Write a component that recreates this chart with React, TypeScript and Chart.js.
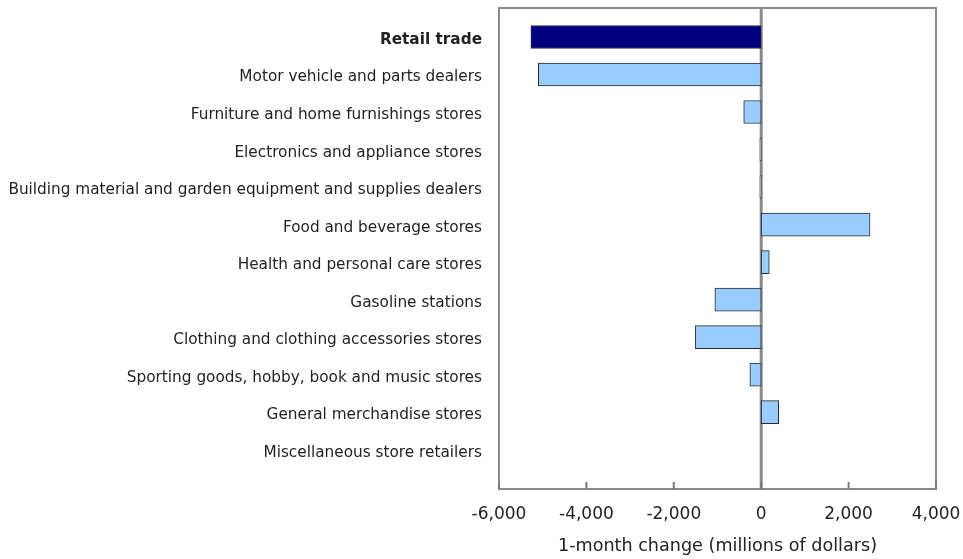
import React, { useEffect, useRef } from "react";
import { Chart, registerables } from "chart.js";

Chart.register(...registerables);

const categories: string[] = [
  "Retail trade",
  "Motor vehicle and parts dealers",
  "Furniture and home furnishings stores",
  "Electronics and appliance stores",
  "Building material and garden equipment and supplies dealers",
  "Food and beverage stores",
  "Health and personal care stores",
  "Gasoline stations",
  "Clothing and clothing accessories stores",
  "Sporting goods, hobby, book and music stores",
  "General merchandise stores",
  "Miscellaneous store retailers",
];

const changes: number[] = [
  -5270, -5100, -400, -30, -30, 2490, 185, -1060, -1510, -260, 400, 0,
];

const xTicks: number[] = [-6000, -4000, -2000, 0, 2000, 4000];

const FONT = "'DejaVu Sans', Verdana, sans-serif";
const GRAY = "#8a8a8a";

const framePlugin = {
  id: "frame",
  beforeDatasetsDraw(chart: any) {
    const { ctx, chartArea, scales } = chart;
    const x0 = scales.x.getPixelForValue(0);
    ctx.save();
    ctx.strokeStyle = GRAY;
    ctx.lineWidth = 3;
    ctx.beginPath();
    ctx.moveTo(x0, chartArea.top);
    ctx.lineTo(x0, chartArea.bottom);
    ctx.stroke();
    ctx.restore();
  },
  afterDatasetsDraw(chart: any) {
    const { ctx, chartArea, scales } = chart;
    ctx.save();
    ctx.strokeStyle = GRAY;
    ctx.lineWidth = 2;
    ctx.strokeRect(
      chartArea.left,
      chartArea.top,
      chartArea.right - chartArea.left,
      chartArea.bottom - chartArea.top
    );
    ctx.strokeStyle = "#777";
    ctx.lineWidth = 2;
    xTicks.forEach((v) => {
      const px = scales.x.getPixelForValue(v);
      ctx.beginPath();
      ctx.moveTo(px, chartArea.bottom);
      ctx.lineTo(px, chartArea.bottom - 7);
      ctx.stroke();
    });
    ctx.restore();
  },
};

export default function App() {
  const ref = useRef<HTMLCanvasElement | null>(null);

  useEffect(() => {
    if (!ref.current) return;
    const chart = new Chart(ref.current, {
      type: "bar",
      data: {
        datasets: [
          {
            data: changes.map((v, i) => ({ x: v, y: i })) as any,
            backgroundColor: changes.map((_, i) => (i === 0 ? "#000080" : "#99ccff")),
            borderColor: "#2a2a2a",
            borderWidth: 1,
            borderSkipped: false,
            barThickness: 23,
          },
        ],
      },
      plugins: [framePlugin],
      options: {
        indexAxis: "y",
        animation: false,
        responsive: false,
        maintainAspectRatio: false,
        layout: { padding: { top: 8, right: 27, left: 0, bottom: 0 } },
        plugins: {
          legend: { display: false },
          tooltip: { enabled: false },
        },
        scales: {
          x: {
            type: "linear",
            min: -6000,
            max: 4000,
            afterBuildTicks: (scale: any) => {
              scale.ticks = xTicks.map((v) => ({ value: v }));
            },
            afterFit: (scale: any) => {
              scale.height = 70;
              scale.paddingLeft = 0;
              scale.paddingRight = 0;
            },
            grid: { display: false },
            border: { display: false },
            ticks: {
              padding: 7,
              color: "#222",
              font: { family: FONT, size: 17 },
              callback: (v: any) => Number(v).toLocaleString("en-US"),
            },
            title: {
              display: true,
              text: "1-month change (millions of dollars)",
              color: "#222",
              font: { family: FONT, size: 17.6 },
              padding: { top: 4, bottom: 2 },
            },
          },
          y: {
            type: "linear",
            reverse: true,
            offset: false,
            min: -0.773,
            max: 12.05,
            afterBuildTicks: (scale: any) => {
              scale.ticks = categories.map((_, i) => ({ value: i }));
            },
            afterFit: (scale: any) => {
              scale.width = 499;
              scale.paddingTop = 0;
              scale.paddingBottom = 0;
            },
            grid: { display: false, drawTicks: false, offset: false },
            border: { display: false },
            ticks: {
              autoSkip: false,
              padding: 17,
              labelOffset: 3,
              color: "#222",
              font: (ctx: any) => ({
                family: FONT,
                size: 15.3,
                weight: ctx.tick && ctx.tick.value === 0 ? "bold" : "normal",
              }),
              callback: (v: any) => categories[Number(v)] ?? "",
            },
          },
        },
      },
    });
    return () => chart.destroy();
  }, []);

  return (
    <div style={{ position: "absolute", left: 0, top: 0, width: 963, height: 559 }}>
      <canvas ref={ref} width={963} height={559} />
    </div>
  );
}
